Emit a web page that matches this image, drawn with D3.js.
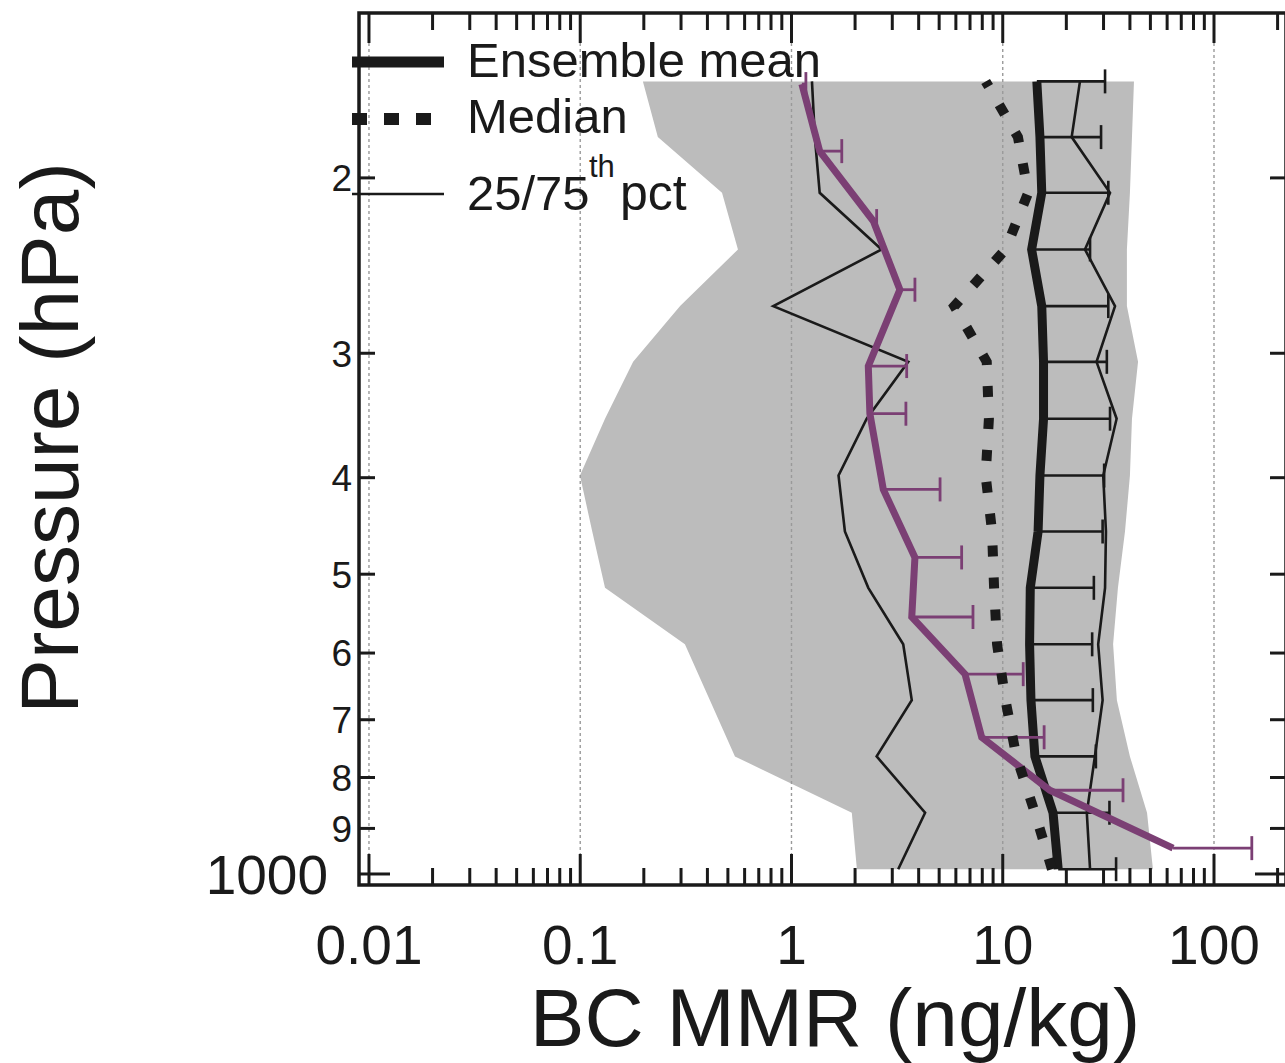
<!DOCTYPE html>
<html>
<head>
<meta charset="utf-8">
<script src="https://cdn.jsdelivr.net/npm/d3@7"></script>
<style>
  body { margin: 0; background: #fff; }
  svg { display: block; }
  text { font-family: "Liberation Sans", Arial, Helvetica, sans-serif; fill: #1a1a1a; }
</style>
</head>
<body>
<svg id="chart" width="1285" height="1063"></svg>
<script>
// Model levels (hPa), from the surface upward
const levels = [989, 868, 762, 669, 588, 516, 453, 398, 349, 306, 269, 236, 207, 182, 160];
// Ensemble statistics of BC mass mixing ratio (ng/kg) on those levels
const ensembleMean  = [18.3, 17.3, 14.2, 13.6, 13.4, 13.5, 14.7, 15.0, 15.6, 15.6, 15.3, 13.7, 15.3, 15.0, 14.5];
const ensembleUpper = [34.4, 32.0, 27.6, 26.7, 26.5, 27.0, 29.7, 30.2, 32.2, 31.1, 31.6, 25.9, 31.6, 29.2, 30.5];
const ensembleMedian = [17.1, 14.2, 11.6, 10.3, 9.4, 9.1, 8.9, 8.3, 8.6, 8.4, 5.9, 10.3, 13.2, 11.8, 8.3];
const pct25 = [3.20, 4.29, 2.53, 3.71, 3.38, 2.31, 1.79, 1.67, 2.27, 3.57, 0.82, 2.67, 1.36, 1.29, 1.25];
const pct75 = [25.9, 25.0, 27.3, 29.7, 28.3, 30.5, 30.8, 29.9, 34.6, 27.8, 34.0, 24.5, 32.2, 21.2, 23.2];
const modelMin = [2.04, 1.93, 0.540, 0.411, 0.313, 0.131, 0.114, 0.0997, 0.131, 0.178, 0.297, 0.558, 0.469, 0.233, 0.198];
const modelMax = [51.4, 48.2, 40.0, 34.7, 33.3, 35.1, 37.9, 40.0, 40.9, 43.7, 38.7, 38.7, 40.0, 40.9, 41.8];

// Observed profile (hPa, ng/kg)
const obsPressure = [942, 824, 729, 630, 552, 481, 411, 345, 309, 259, 221, 188, 161];
const obsMean     = [64.0, 16.7, 7.95, 6.63, 3.71, 3.84, 2.72, 2.35, 2.31, 3.26, 2.44, 1.36, 1.12];
const obsUpper    = [151, 37.1, 15.7, 12.5, 7.23, 6.39, 5.05, 3.48, 3.51, 3.84, 2.53, 1.73, 1.17];

// Axis ticks
const xMajorTicks = [0.01, 0.1, 1, 10, 100];
const xTickLabels = ["0.01", "0.1", "1", "10", "100"];
const yTicks = [200, 300, 400, 500, 600, 700, 800, 900, 1000];
const yTickLabels = ["2", "3", "4", "5", "6", "7", "8", "9", "1000"];

const legendLabels = ["Ensemble mean", "Median", "25/75", "th", "pct"];
const xTitle = "BC MMR (ng/kg)";
const yTitle = "Pressure (hPa)";

const INK = "#1a1a1a";
const PURPLE = "#7b3f74";
const SHADE = "#bcbcbc";

const svg = d3.select("#chart");
svg.append("rect").attr("width", 1285).attr("height", 1063).attr("fill", "#fff");

const plotLeft = 359, plotRight = 1286, plotTop = 13, plotBottom = 885;
const x = d3.scaleLog().domain([0.00897, 219.2]).range([plotLeft, plotRight]);
const y = d3.scaleLog().domain([136.6, 1025.8]).range([plotTop, plotBottom]);

const model = levels.map((p, i) => ({
  p, mean: ensembleMean[i], upper: ensembleUpper[i], med: ensembleMedian[i],
  q25: pct25[i], q75: pct75[i], lo: modelMin[i], hi: modelMax[i]
}));
const obs = obsPressure.map((p, i) => ({ p, mean: obsMean[i], upper: obsUpper[i] }));

// Model min/max envelope
svg.append("path")
  .datum(model)
  .attr("fill", SHADE)
  .attr("d", d3.area().y(d => y(d.p)).x0(d => x(d.lo)).x1(d => x(d.hi)));

// Decade grid lines
svg.append("g").selectAll("line").data(xMajorTicks).join("line")
  .attr("x1", d => x(d)).attr("x2", d => x(d))
  .attr("y1", plotTop).attr("y2", plotBottom)
  .attr("stroke", "#9a9a9a").attr("stroke-width", 1.4)
  .attr("stroke-dasharray", "3,3");

const lineOf = key => d3.line().x(d => x(d[key])).y(d => y(d.p));

// 25th / 75th percentiles
["q25", "q75"].forEach(k => {
  svg.append("path").datum(model)
    .attr("fill", "none").attr("stroke", INK).attr("stroke-width", 2.6)
    .attr("d", lineOf(k));
});

// Ensemble spread bars
const eb = svg.append("g").attr("stroke", INK).attr("stroke-width", 2.6);
eb.selectAll("line.bar").data(model).join("line").attr("class", "bar")
  .attr("x1", d => x(d.mean)).attr("x2", d => x(d.upper))
  .attr("y1", d => y(d.p)).attr("y2", d => y(d.p));
eb.selectAll("line.cap").data(model).join("line").attr("class", "cap")
  .attr("x1", d => x(d.upper)).attr("x2", d => x(d.upper))
  .attr("y1", d => y(d.p) - 12).attr("y2", d => y(d.p) + 12);

// Ensemble mean
svg.append("path").datum(model)
  .attr("fill", "none").attr("stroke", INK).attr("stroke-width", 9)
  .attr("d", lineOf("mean"));

// Observations with bars
const ob = svg.append("g").attr("stroke", PURPLE).attr("stroke-width", 2.8);
ob.selectAll("line.bar").data(obs).join("line").attr("class", "bar")
  .attr("x1", d => x(d.mean)).attr("x2", d => x(d.upper))
  .attr("y1", d => y(d.p)).attr("y2", d => y(d.p));
ob.selectAll("line.cap").data(obs).join("line").attr("class", "cap")
  .attr("x1", d => x(d.upper)).attr("x2", d => x(d.upper))
  .attr("y1", d => y(d.p) - 12).attr("y2", d => y(d.p) + 12);
svg.append("path").datum(obs)
  .attr("fill", "none").attr("stroke", PURPLE).attr("stroke-width", 7)
  .attr("d", d3.line().x(d => x(d.mean)).y(d => y(d.p)));

// Ensemble median
svg.append("path").datum(model)
  .attr("fill", "none").attr("stroke", INK).attr("stroke-width", 10)
  .attr("stroke-dasharray", "11,21")
  .attr("d", lineOf("med"));

// Frame
svg.append("path").attr("stroke", INK).attr("fill", "none").attr("stroke-width", 3.5)
  .attr("d", `M${plotRight},${plotTop}H${plotLeft}V${plotBottom}H${plotRight}V${plotTop}`);

// X ticks (decades and 2..9 minor ticks) on top and bottom
const xAll = [];
for (let e = -2; e <= 2; e++) for (let m = 1; m <= 9; m++) {
  const v = m * Math.pow(10, e);
  if (v >= 0.01 && v <= 219) xAll.push({ v, major: m === 1 });
}
const tg = svg.append("g").attr("stroke", INK).attr("stroke-width", 3);
tg.selectAll("line.xb").data(xAll).join("line").attr("class", "xb")
  .attr("x1", d => x(d.v)).attr("x2", d => x(d.v))
  .attr("y1", plotBottom).attr("y2", d => plotBottom - (d.major ? 31 : 17));
tg.selectAll("line.xt").data(xAll).join("line").attr("class", "xt")
  .attr("x1", d => x(d.v)).attr("x2", d => x(d.v))
  .attr("y1", plotTop).attr("y2", d => plotTop + (d.major ? 30 : 17));

// Y ticks on left and right
const yAll = yTicks.map((v, i) => ({ v, label: yTickLabels[i], major: v === 1000 }));
tg.selectAll("line.yl").data(yAll).join("line").attr("class", "yl")
  .attr("y1", d => y(d.v)).attr("y2", d => y(d.v))
  .attr("x1", plotLeft).attr("x2", d => plotLeft + (d.major ? 31 : 16));
tg.selectAll("line.yr").data(yAll).join("line").attr("class", "yr")
  .attr("y1", d => y(d.v)).attr("y2", d => y(d.v))
  .attr("x1", plotRight).attr("x2", d => plotRight - (d.major ? 31 : 16));

// Tick labels
svg.append("g").selectAll("text").data(xMajorTicks).join("text")
  .attr("x", d => x(d)).attr("y", 964)
  .attr("text-anchor", "middle").attr("font-size", 55)
  .text((d, i) => xTickLabels[i]);
svg.append("g").selectAll("text").data(yAll).join("text")
  .attr("x", d => d.major ? 328 : 352)
  .attr("y", d => y(d.v)).attr("dy", "0.36em")
  .attr("text-anchor", "end")
  .attr("font-size", d => d.major ? 55 : 37)
  .text(d => d.label);

// Axis titles
svg.append("text").attr("x", 835).attr("y", 1046)
  .attr("text-anchor", "middle").attr("font-size", 82).text(xTitle);
svg.append("text").attr("transform", "translate(78,438) rotate(-90)")
  .attr("text-anchor", "middle").attr("font-size", 82).text(yTitle);

// Legend
const lg = svg.append("g");
lg.append("line").attr("x1", 352).attr("x2", 444).attr("y1", 62).attr("y2", 62)
  .attr("stroke", INK).attr("stroke-width", 11);
lg.append("line").attr("x1", 352).attr("x2", 434).attr("y1", 119).attr("y2", 119)
  .attr("stroke", INK).attr("stroke-width", 12).attr("stroke-dasharray", "15,17");
lg.append("line").attr("x1", 352).attr("x2", 444).attr("y1", 194).attr("y2", 194)
  .attr("stroke", INK).attr("stroke-width", 2.6);
lg.append("text").attr("x", 467).attr("y", 77).attr("font-size", 49).text(legendLabels[0]);
lg.append("text").attr("x", 467).attr("y", 133).attr("font-size", 49).text(legendLabels[1]);
lg.append("text").attr("x", 467).attr("y", 210).attr("font-size", 49).text(legendLabels[2]);
lg.append("text").attr("x", 589).attr("y", 177).attr("font-size", 31).text(legendLabels[3]);
lg.append("text").attr("x", 620).attr("y", 210).attr("font-size", 50).text(legendLabels[4]);
</script>
</body>
</html>
